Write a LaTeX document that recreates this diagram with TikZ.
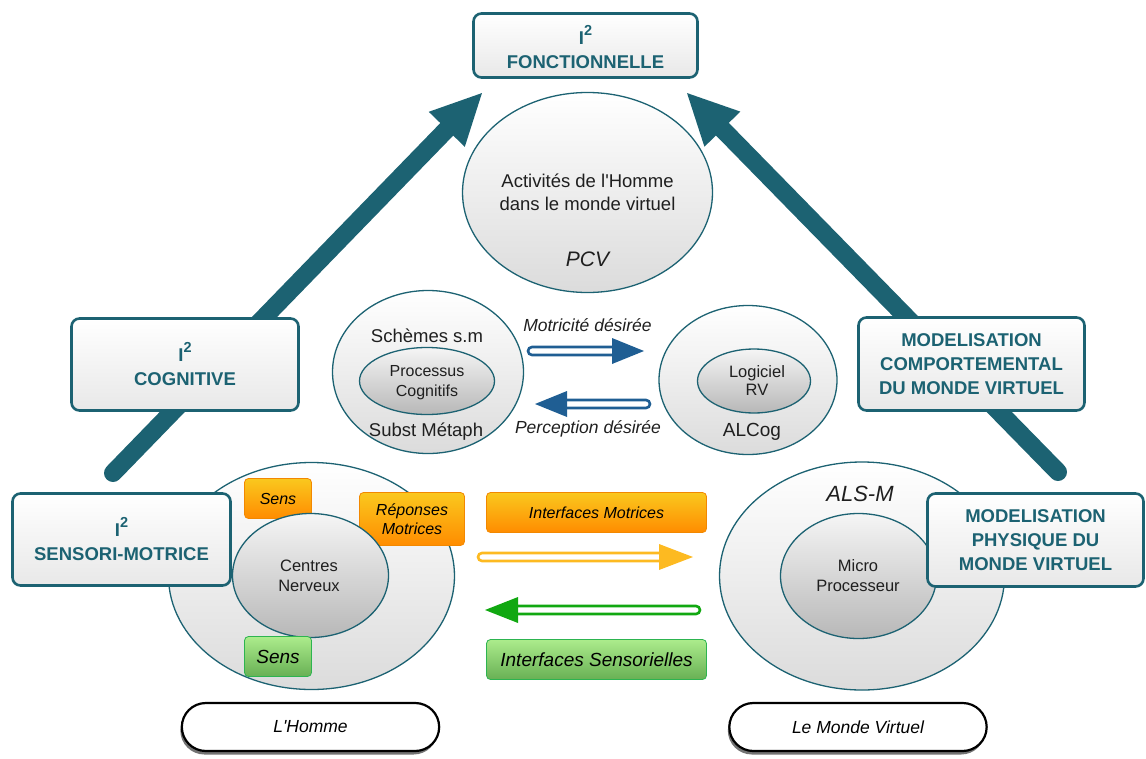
\documentclass[tikz,border=0pt]{standalone}
\usepackage{fontspec}
\setmainfont{Liberation Sans}[Ligatures=TeXOff]
\usetikzlibrary{arrows.meta,shapes.geometric,shapes.misc,shadows}
\definecolor{tealA}{RGB}{28,98,114}
\definecolor{blueA}{RGB}{31,94,147}
\definecolor{orangeT}{RGB}{250,200,30}
\definecolor{orangeB}{RGB}{255,140,0}
\definecolor{orangeD}{RGB}{242,136,0}
\definecolor{greenT}{RGB}{172,236,140}
\definecolor{greenB}{RGB}{104,176,84}
\definecolor{greenD}{RGB}{45,180,80}
\definecolor{goldA}{RGB}{253,186,33}
\definecolor{greenA}{RGB}{17,168,17}
\newcommand\fsz[2]{\fontsize{#1}{#2}\selectfont}
\newcommand\Isq{I\raisebox{9pt}{\fsz{14.5}{15}2}}
% color, tail x, shaft end x, head base x, tip x, y
\newcommand\harrow[6]{%
  \draw[line width=2.6pt,draw=#1,fill=white,rounded corners=4pt] (#2,#6-4) rectangle (#3,#6+4);
  \fill[#1] (#4,#6-13) -- (#5,#6) -- (#4,#6+13) -- cycle;}
\begin{document}
\begin{tikzpicture}[x=1pt,y=-1pt,
  tbox/.style={draw=tealA, line width=2.6pt, rounded corners=8pt, top color=white, bottom color=black!9,
    text=tealA, font=\bfseries\fsz{18.5}{24}, align=center, inner sep=0pt},
  oell/.style={ellipse, draw=tealA, line width=1.3pt, top color=white, bottom color=black!14, inner sep=0pt},
  iell/.style={ellipse, draw=tealA, line width=1.3pt, top color=black!4, bottom color=black!28, inner sep=0pt},
  obox/.style={draw=orangeD, line width=0.8pt, rounded corners=4pt, top color=orangeT, bottom color=orangeB,
    font=\itshape\fsz{16}{18.5}, align=center, inner sep=0pt},
  gbox/.style={draw=greenD, line width=0.8pt, rounded corners=4pt, top color=greenT, bottom color=greenB,
    font=\itshape\fsz{19}{22}, align=center, inner sep=0pt},
  txt/.style={text=black!88, align=center, inner sep=0pt},
  bigarrow/.style={draw=tealA, line width=18pt, line cap=round, -{Triangle[length=52pt,width=46pt]}},
  pill/.style={rounded rectangle, draw=black, line width=2.2pt, fill=white, minimum width=264pt,
    minimum height=48pt, font=\itshape\fsz{17.5}{20},
    drop shadow={shadow xshift=-1.5pt, shadow yshift=-3.5pt, fill=black, opacity=0.55}}
]
\useasboundingbox (0,0) rectangle (1146,758);

% big arrows
\coordinate (LT) at (113,473);
\coordinate (LH) at (483,92);
\coordinate (RT) at (1058,472);
\coordinate (RH) at (686,92);
\draw[bigarrow] (LT) -- (LH);
\draw[bigarrow] (RT) -- (RH);

% PCV ellipse
\node[oell, minimum width=250pt, minimum height=200pt] (pcv) at (587.5,192.5) {};
\node[txt, font=\fsz{18.5}{23}] (act) at (587.5,192) {Activités de l'Homme\\dans le monde virtuel};
\node[txt, font=\itshape\fsz{21}{24}] (pcvt) at (587.5,259.5) {PCV};

% middle left ellipse
\node[oell, minimum width=191pt, minimum height=163pt] (lmo) at (428,372) {};
\node[iell, minimum width=135pt, minimum height=67pt] (lmi) at (427,381) {};
\node[txt, font=\fsz{18.5}{22}] (schem) at (427,336) {Schèmes s.m};
\node[txt, font=\fsz{16}{20}] (proc) at (427,382.5) {Processus\\Cognitifs};
\node[txt, font=\fsz{18.5}{22}] (subst) at (426,432) {Subst Métaph};

% middle right ellipse
\node[oell, minimum width=178pt, minimum height=149pt] (rmo) at (748,380) {};
\node[iell, minimum width=113pt, minimum height=64pt] (rmi) at (754,381) {};
\node[txt, font=\fsz{16.5}{18}] (logi) at (757,380.5) {Logiciel\\RV};
\node[txt, font=\fsz{19}{22}] (alcog) at (752,432) {ALCog};

% blue arrows
\node[txt, font=\itshape\fsz{17.5}{20}] (motd) at (587.5,325.5) {Motricité désirée};
\harrow{blueA}{528}{620}{612}{644}{351}
\harrow{blueA}{650}{560}{567}{535}{404}
\node[txt, font=\itshape\fsz{17.5}{20}] (perd) at (588,429) {Perception désirée};

% L'Homme group
\node[oell, minimum width=286pt, minimum height=227pt] (blo) at (311.5,576) {};
\node[obox, minimum width=67pt, minimum height=40pt] (sens1) at (278,498.5) {Sens};
\node[obox, minimum width=105pt, minimum height=53pt] (repo) at (412,519) {Réponses\\Motrices};
\node[iell, minimum width=156pt, minimum height=124pt] (bli) at (310.5,575.5) {};
\node[txt, font=\fsz{16.5}{20}] (cent) at (309,575.5) {Centres\\Nerveux};
\node[gbox, minimum width=67pt, minimum height=40pt] (sens2) at (278,656.5) {Sens};

% interfaces
\node[obox, minimum width=220pt, minimum height=40pt] (imot) at (596.5,512.5) {Interfaces Motrices};
\harrow{goldA}{478}{666}{659}{693}{557}
\harrow{greenA}{700}{512}{518}{485}{610}
\node[gbox, minimum width=220pt, minimum height=40pt] (isen) at (596.5,659.5) {Interfaces Sensorielles};

% Le Monde Virtuel group
\node[oell, minimum width=285pt, minimum height=228pt] (bro) at (862,576) {};
\node[txt, font=\itshape\fsz{22}{24}] (alsm) at (860,494) {ALS-M};
\node[iell, minimum width=156pt, minimum height=125pt] (bri) at (858.5,576) {};
\node[txt, font=\fsz{16.5}{20}] (micro) at (858,575.5) {Micro\\Processeur};

% title boxes
\node[tbox, minimum width=224pt, minimum height=64pt] (fonc) at (585.5,45.5) {\Isq\rule{0pt}{23pt}\\FONCTIONNELLE};
\node[tbox, minimum width=227pt, minimum height=92pt] (cogn) at (185,364.5) {\Isq\\COGNITIVE};
\node[tbox, minimum width=218pt, minimum height=92pt] (senm) at (121.5,539.5) {\Isq\\SENSORI-MOTRICE};
\node[tbox, minimum width=226pt, minimum height=93pt] (comp) at (971.5,364) {MODELISATION\\COMPORTEMENTAL\\DU MONDE VIRTUEL};
\node[tbox, minimum width=216pt, minimum height=93pt] (phys) at (1035.5,540) {MODELISATION\\PHYSIQUE DU\\MONDE VIRTUEL};

% bottom pills
\node[pill] (homme) at (310.5,727) {L'Homme};
\node[pill] (monde) at (858,727) {Le Monde Virtuel};
\end{tikzpicture}
\end{document}
